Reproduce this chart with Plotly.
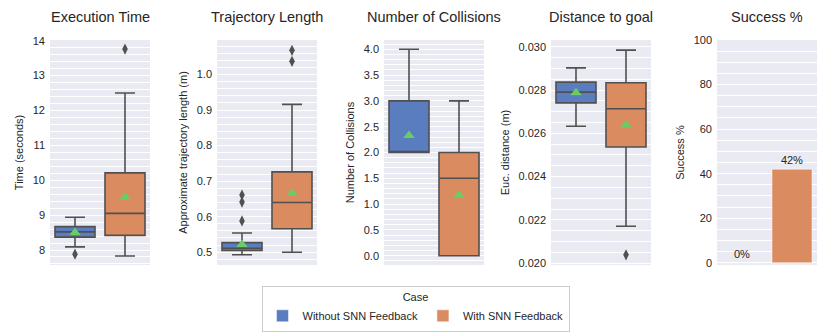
import plotly.graph_objects as go

cases = ["Without SNN Feedback", "With SNN Feedback"]
colors = ["#597DBF", "#DA8B5F"]

titles = ["Execution Time", "Trajectory Length", "Number of Collisions", "Distance to goal", "Success %"]
ylabels = ["Time (seconds)", "Approximate trajectory length (m)", "Number of Collisions",
           "Euc. distance (m)", "Success %"]

# Execution time
time_q1 = [8.37, 8.42]
time_med = [8.52, 9.05]
time_q3 = [8.67, 10.21]
time_lo = [8.09, 7.83]
time_hi = [8.94, 12.50]
time_mean = [8.50, 9.51]
time_out = [[7.88], [13.76]]

# Trajectory length
traj_q1 = [0.505, 0.566]
traj_med = [0.511, 0.640]
traj_q3 = [0.527, 0.726]
traj_lo = [0.493, 0.500]
traj_hi = [0.554, 0.916]
traj_mean = [0.522, 0.665]
traj_out = [[0.588, 0.641, 0.661], [1.037, 1.068]]

# Number of collisions
coll_q1 = [2.0, 0.0]
coll_med = [2.0, 1.5]
coll_q3 = [3.0, 2.0]
coll_lo = [2.0, 0.0]
coll_hi = [4.0, 3.0]
coll_mean = [2.33, 1.17]
coll_out = [[], []]

# Distance to goal
dist_q1 = [0.02741, 0.02537]
dist_med = [0.02791, 0.02714]
dist_q3 = [0.02837, 0.02834]
dist_lo = [0.02633, 0.02170]
dist_hi = [0.02903, 0.02985]
dist_mean = [0.02788, 0.02639]
dist_out = [[], [0.02038]]

# Success %
success = [0, 42]

# page has an 8px body margin: figure occupies page pixels 8..830, 8..332
OFF = 8
W, H = 830 - OFF, 332 - OFF
EDGE = "#505050"
TXT = "#262626"
FONT = "Liberation Sans, Arial, sans-serif"

panels_px = [(50, 150), (217, 317), (384, 484), (551, 651), (717, 817)]
y_px = (40, 265)
yranges = [[7.57, 14.02], [0.464, 1.097], [-0.18, 4.18], [0.01991, 0.03032], [-1, 100]]
ydticks = [1, 0.1, 0.5, 0.002, 20]
yminor = [0.2, 0.02, 0.1, 0.0005, 5]
yfmt = ["d", ".1f", ".1f", ".3f", "d"]


def px_x(p):
    return (p - OFF) / W


def px_y(p):
    return (H - (p - OFF)) / H


box_sets = [
    (time_q1, time_med, time_q3, time_lo, time_hi, time_mean, time_out),
    (traj_q1, traj_med, traj_q3, traj_lo, traj_hi, traj_mean, traj_out),
    (coll_q1, coll_med, coll_q3, coll_lo, coll_hi, coll_mean, coll_out),
    (dist_q1, dist_med, dist_q3, dist_lo, dist_hi, dist_mean, dist_out),
]

fig = go.Figure()
layout = {}
for i in range(5):
    sfx = "" if i == 0 else str(i + 1)
    xa, ya = "x" + sfx, "y" + sfx
    x0, x1 = panels_px[i]
    layout["xaxis" + sfx] = dict(
        domain=[px_x(x0), px_x(x1)], range=[-0.5, 1.5], anchor=ya, automargin=False,
        showticklabels=False, showgrid=False, zeroline=False, showline=False, ticks="",
    )
    layout["yaxis" + sfx] = dict(
        domain=[px_y(y_px[1]), px_y(y_px[0])], range=yranges[i], anchor=xa,
        automargin=False,
        dtick=ydticks[i], tick0=0, tickformat=yfmt[i], showgrid=True, gridcolor="white",
        gridwidth=1.3, zeroline=False, showline=False, ticks="", ticklabelstandoff=4,
        tickfont=dict(size=11, color=TXT, family=FONT),
        title=dict(text=ylabels[i], font=dict(size=11, color=TXT, family=FONT), standoff=6),
        minor=dict(dtick=yminor[i], tick0=0, showgrid=True, gridcolor="white", gridwidth=0.6),
    )
    if i < 4:
        q1, med, q3, lo, hi, mean, outs = box_sets[i]
        for k in range(2):
            fig.add_trace(go.Box(
                x=[k], q1=[q1[k]], median=[med[k]], q3=[q3[k]],
                lowerfence=[lo[k]], upperfence=[hi[k]],
                width=0.8, whiskerwidth=0.5, fillcolor=colors[k],
                line=dict(color=EDGE, width=1.6), boxpoints=False,
                showlegend=False, hoverinfo="skip", xaxis=xa, yaxis=ya,
            ))
            if outs[k]:
                fig.add_trace(go.Scatter(
                    x=[k] * len(outs[k]), y=outs[k], mode="markers",
                    marker=dict(symbol="diamond-tall", size=8, color=EDGE),
                    showlegend=False, xaxis=xa, yaxis=ya,
                ))
        fig.add_trace(go.Scatter(
            x=[0, 1], y=mean, mode="markers",
            marker=dict(symbol="triangle-up", size=10, color="#6ACC64"),
            showlegend=False, xaxis=xa, yaxis=ya,
        ))
    else:
        for k in range(2):
            fig.add_trace(go.Bar(
                x=[k], y=[success[k]], width=0.8, name=cases[k],
                marker=dict(color=colors[k], line=dict(color="white", width=0.5)),
                text=[f"{success[k]}%"], textposition="outside", cliponaxis=False,
                textfont=dict(size=11, color=TXT, family=FONT),
                showlegend=True, xaxis=xa, yaxis=ya,
            ))
    fig.add_annotation(
        x=px_x((x0 + x1) / 2), y=px_y(17), xref="paper", yref="paper",
        text=titles[i], showarrow=False, xanchor="center", yanchor="middle",
        font=dict(size=14.5, color=TXT, family=FONT),
    )

fig.update_layout(
    **layout,
    width=W, height=H,
    margin=dict(l=0, r=0, t=0, b=0, autoexpand=False),
    paper_bgcolor="white", plot_bgcolor="#EAEAF2",
    boxmode="overlay", barmode="overlay",
    font=dict(family=FONT, color=TXT, size=11),
    legend=dict(
        orientation="h", x=px_x(415.5), xanchor="center", y=px_y(286), yanchor="top",
        bgcolor="white", bordercolor="#CCCCCC", borderwidth=1,
        title=dict(text="Case", side="top center", font=dict(size=11, color=TXT)),
        font=dict(size=11, color=TXT), itemwidth=30, tracegroupgap=0,
    ),
)

fig.write_html("out.html")
